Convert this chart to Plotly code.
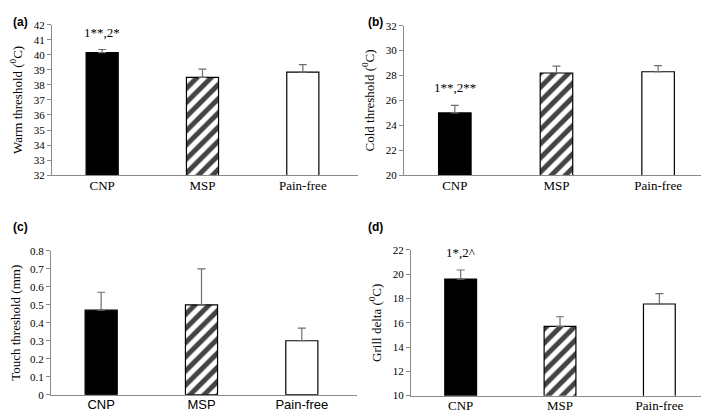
import plotly.graph_objects as go

categories = ["CNP", "MSP", "Pain-free"]

warm_vals = [40.15, 38.5, 38.85]
warm_err = [0.2, 0.55, 0.5]
cold_vals = [25.0, 28.2, 28.3]
cold_err = [0.6, 0.55, 0.5]
touch_vals = [0.47, 0.50, 0.30]
touch_err = [0.10, 0.20, 0.07]
grill_vals = [19.6, 15.7, 17.55]
grill_err = [0.75, 0.8, 0.85]

panel_titles = ["Warm threshold (<sup>0</sup>C)", "Cold threshold (<sup>0</sup>C)",
                "Touch threshold (mm)", "Grill delta (<sup>0</sup>C)"]
panel_letters = ["(a)", "(b)", "(c)", "(d)"]
sig_labels = ["1**,2*", "1**,2**", None, "1*,2^"]
y_ranges = [(32, 42), (20, 32), (0, 0.8), (10, 22)]
y_dticks = [1, 2, 0.1, 2]

W, H = 709, 415
# pixel boxes (left, right, top, bottom)
boxes = [(44, 350, 11, 166), (396, 706, 12, 166), (43, 349, 244, 392), (403, 706, 243, 393)]

SERIF = "Liberation Serif, Times New Roman, serif"
SANS = "Liberation Sans, Arial, sans-serif"
fig = go.Figure()
data = [(warm_vals, warm_err), (cold_vals, cold_err), (touch_vals, touch_err), (grill_vals, grill_err)]

fills = ["black", "white", "white"]

layout = dict()
for i, ((vals, errs), box) in enumerate(zip(data, boxes)):
    n = i + 1
    xa = "x" if n == 1 else f"x{n}"
    ya = "y" if n == 1 else f"y{n}"
    fig.add_trace(go.Bar(
        x=categories, y=vals, xaxis=xa, yaxis=ya, width=0.32,
        marker=dict(color=fills, line=dict(color="black", width=1.2),
                    pattern=dict(shape=["", "/", ""], size=10, solidity=0.5,
                                 fgcolor="black", fgopacity=1, bgcolor="white")),
        error_y=dict(type="data", array=errs, arrayminus=[0, 0, 0], symmetric=False,
                     color="#6e6e6e", thickness=1.2, width=4),
        showlegend=False, hoverinfo="skip"))
    l, r, t, b = box
    xkey = "xaxis" if n == 1 else f"xaxis{n}"
    ykey = "yaxis" if n == 1 else f"yaxis{n}"
    cat_font = dict(family=SANS if n == 3 else SERIF, size=13, color="black")
    layout[xkey] = dict(domain=[l / W, r / W], anchor=ya, showline=True, linecolor="#8a8a8a",
                        linewidth=1, ticks="", tickfont=cat_font, showgrid=False, fixedrange=True,
                        range=[-0.5, 2.55], ticklabelstandoff=-2)
    layout[ykey] = dict(domain=[1 - b / H, 1 - t / H], anchor=xa, range=list(y_ranges[i]),
                        dtick=y_dticks[i], showline=True, linecolor="#8a8a8a", linewidth=1,
                        ticks="outside", ticklen=4, tickcolor="#8a8a8a", showgrid=False,
                        zeroline=False, tickfont=dict(family=SERIF, size=11, color="black"),
                        title=dict(text=panel_titles[i], font=dict(family=SERIF, size=13, color="black"),
                                   standoff=8))
    if sig_labels[i]:
        fig.add_annotation(x=categories[0], y=vals[0] + errs[0], xref=xa, yref=ya,
                           text=sig_labels[i], showarrow=False, yanchor="bottom", yshift=8,
                           font=dict(family=SERIF, size=13, color="black"))

letter_pos = [(3, 8), (358, 8), (3, 219), (358, 219)]
for letter, (px, py) in zip(panel_letters, letter_pos):
    fig.add_annotation(x=px / W, y=1 - py / H, xref="paper", yref="paper", text=f"<b>{letter}</b>",
                       showarrow=False, xanchor="left", yanchor="middle",
                       font=dict(family=SANS, size=12, color="black"))

fig.update_layout(width=W, height=H, margin=dict(l=0, r=0, t=0, b=0),
                  paper_bgcolor="white", plot_bgcolor="white", **layout)
fig.write_html("out.html")
